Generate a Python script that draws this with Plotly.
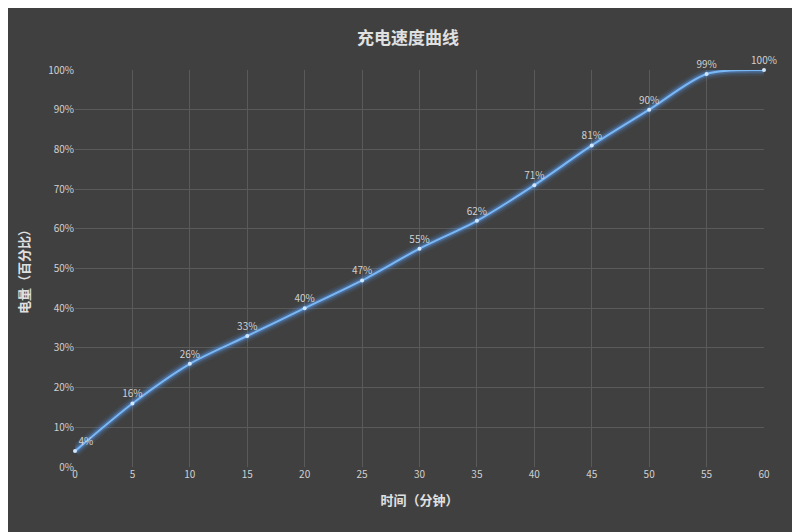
import plotly.graph_objects as go

minutes = [0, 5, 10, 15, 20, 25, 30, 35, 40, 45, 50, 55, 60]
charge = [4, 16, 26, 33, 40, 47, 55, 62, 71, 81, 90, 99, 100]
labels = [f"{v}%" for v in charge]

fig = go.Figure()
# glow layers
for w, a in [(12, 0.08), (8, 0.15), (5, 0.3)]:
    fig.add_trace(go.Scatter(x=minutes, y=charge, mode="lines",
                             line=dict(color=f"rgba(90,160,255,{a})", width=w, shape="spline", smoothing=0.8),
                             hoverinfo="skip", showlegend=False, cliponaxis=False))
fig.add_trace(go.Scatter(
    x=minutes, y=charge, mode="lines+markers+text",
    line=dict(color="#7ab8f5", width=2, shape="spline", smoothing=0.8),
    marker=dict(color="#cfe6ff", size=4),
    text=labels, textposition=["top right"] + ["top center"] * 12,
    textfont=dict(color="#d0d0d0", size=10, family="Noto Sans CJK SC"),
    cliponaxis=False, showlegend=False))

fig.update_layout(
    width=800, height=532,
    paper_bgcolor="#404040", plot_bgcolor="#404040",
    margin=dict(l=67, r=44, t=62, b=73),
    title=dict(text="<b>充电速度曲线</b>", x=0.5, y=0.955, xanchor="center",
               font=dict(color="#e0e0e0", size=17, family="Noto Sans CJK SC")),
    font=dict(family="Noto Sans CJK SC", color="#d0d0d0", size=10),
    xaxis=dict(range=[0, 60], tickvals=minutes, showgrid=True, gridcolor="#5a5a5a",
               zeroline=False, showline=False, ticks="",
               title=dict(text="<b>时间（分钟）</b>", font=dict(size=13, color="#e0e0e0"))),
    yaxis=dict(range=[0, 100], dtick=10, ticksuffix="%", showgrid=True, gridcolor="#5a5a5a",
               zeroline=False, showline=False, ticks="",
               title=dict(text="<b>电量（百分比）</b>", font=dict(size=13, color="#e0e0e0"))),
)
fig.write_html("out.html")
